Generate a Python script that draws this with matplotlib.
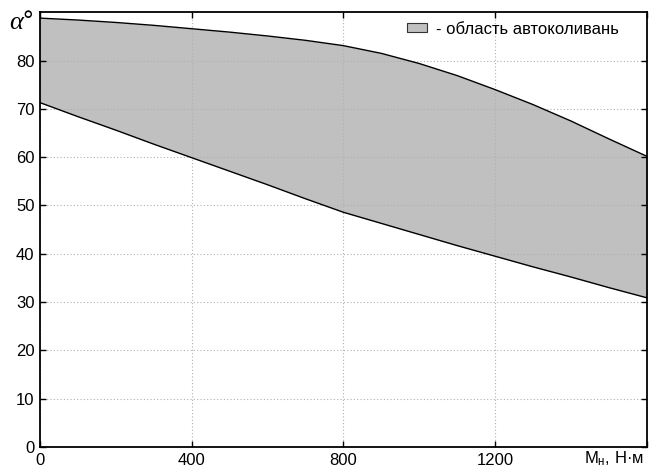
import matplotlib
matplotlib.use("Agg")
import matplotlib.pyplot as plt

plt.rcParams['font.family'] = ['Liberation Sans', 'DejaVu Sans']
plt.rcParams['mathtext.fontset'] = 'custom'
plt.rcParams['mathtext.rm'] = 'Liberation Sans'
plt.rcParams['mathtext.it'] = 'Liberation Serif:italic'

# torque, N*m
m_load = [0, 100, 200, 300, 400, 500, 600, 700, 800,
          900, 1000, 1100, 1200, 1300, 1400, 1500, 1600]
# upper and lower boundary of the self-oscillation region, degrees
alpha_upper = [88.8, 88.4, 87.9, 87.3, 86.6, 85.9, 85.1, 84.2, 83.1,
               81.5, 79.4, 76.9, 74.0, 70.9, 67.5, 63.8, 60.2]
alpha_lower = [71.3, 68.4, 65.6, 62.7, 59.9, 57.1, 54.3, 51.4, 48.6,
               46.3, 44.0, 41.7, 39.5, 37.3, 35.2, 33.0, 30.9]

x_ticks = [0, 400, 800, 1200]
y_ticks = [0, 10, 20, 30, 40, 50, 60, 70, 80]

fig = plt.figure(figsize=(6.49, 4.68), dpi=100)
ax = fig.add_axes([0.0616, 0.0449, 0.9349, 0.9288])

ax.fill_between(m_load, alpha_lower, alpha_upper, color='#c0c0c0',
                linewidth=0, label='- область автоколивань')
ax.plot(m_load, alpha_upper, color='black', lw=1.0)
ax.plot(m_load, alpha_lower, color='black', lw=1.0)

ax.set_xlim(0, 1600)
ax.set_ylim(0, 90)
ax.set_xticks(x_ticks + [1600])
ax.set_xticklabels([str(v) for v in x_ticks] + [''])
ax.set_yticks(y_ticks)
ax.tick_params(direction='in', top=True, right=True, length=4,
               labelsize=12, width=1, pad=4)
ax.grid(True, color='#b0b0b0', linestyle=(0, (1, 2)), linewidth=0.8)
for sp in ax.spines.values():
    sp.set_linewidth(1.3)

ax.text(-0.01, 1.005, r'$\alpha$°', transform=ax.transAxes, ha='right',
        va='top', fontsize=19)
ax.text(0.996, -0.006, 'M$_{\\mathrm{н}}$, Н·м', transform=ax.transAxes,
        ha='right', va='top', fontsize=12)

leg = ax.legend(loc='upper right', bbox_to_anchor=(0.962, 0.99),
                frameon=False, fontsize=12, handlelength=1.2,
                handleheight=0.5, handletextpad=0.5, borderpad=0.3,
                borderaxespad=0)
for h in leg.legend_handles:
    h.set_edgecolor('#333333')
    h.set_linewidth(0.8)

fig.savefig('out.png', dpi=100)
